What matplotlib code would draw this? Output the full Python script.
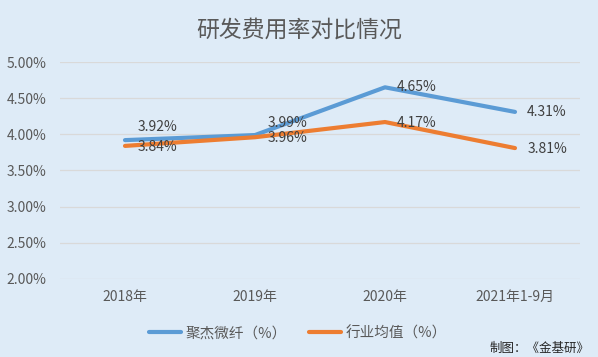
import matplotlib
matplotlib.use("Agg")
import matplotlib.pyplot as plt
from matplotlib.ticker import FuncFormatter

plt.rcParams['font.family'] = ['Noto Sans CJK SC', 'DejaVu Sans']

categories = ['2018年', '2019年', '2020年', '2021年1-9月']
jujie = [3.92, 3.99, 4.65, 4.31]
industry = [3.84, 3.96, 4.17, 3.81]
series_names = ['聚杰微纤（%）', '行业均值（%）']

bg = '#DEEBF7'
text_color = '#595959'
colors = ['#5B9BD5', '#ED7D31']

fig = plt.figure(figsize=(5.98, 3.57), dpi=100, facecolor=bg)
ax = fig.add_axes([60 / 598, 78 / 357, 520 / 598, 217 / 357], facecolor=bg)

x = range(len(categories))
ax.plot(x, jujie, color=colors[0], linewidth=3, solid_capstyle='round',
        label=series_names[0], zorder=3)
ax.plot(x, industry, color=colors[1], linewidth=3, solid_capstyle='round',
        label=series_names[1], zorder=3)

# data labels to the right of each point (two nudged upward as in the source)
blue_dy = [13, 12, 0, 0]
for i, v in enumerate(jujie):
    ax.annotate(f'{v:.2f}%', (i, v), xytext=(32, blue_dy[i]), textcoords='offset pixels',
                ha='center', va='center', fontsize=10, color='#404040')
for i, v in enumerate(industry):
    ax.annotate(f'{v:.2f}%', (i, v), xytext=(32, -1), textcoords='offset pixels',
                ha='center', va='center', fontsize=10, color='#404040')

ax.set_xlim(-0.5, len(categories) - 0.5)
ax.set_ylim(2.0, 5.0)
ax.set_yticks([2.0, 2.5, 3.0, 3.5, 4.0, 4.5, 5.0])
ax.yaxis.set_major_formatter(FuncFormatter(lambda y, _: f'{y:.2f}%'))
ax.set_xticks(list(x))
ax.set_xticklabels(categories)
ax.tick_params(axis='both', length=0, labelsize=10, labelcolor=text_color)
ax.tick_params(axis='y', pad=10)
ax.tick_params(axis='x', pad=8)
ax.grid(axis='y', color='#D9D9D9', linewidth=0.9)
ax.set_axisbelow(True)
for s in ax.spines.values():
    s.set_visible(False)

fig.text(0.5, 1 - 30 / 357, '研发费用率对比情况', ha='center', va='center',
         fontsize=16.5, color=text_color)

leg = fig.legend(loc='center', bbox_to_anchor=(298 / 598, 1 - 333 / 357), ncol=2,
                 frameon=False, fontsize=10.5, handlelength=2.2, handletextpad=0.3,
                 columnspacing=1.5, labelcolor=text_color)

fig.text(490 / 598, 1 - 348 / 357, '制图：《金基研》', ha='left', va='center',
         fontsize=9, color='#262626')

fig.savefig('out.png', dpi=100, facecolor=bg)
